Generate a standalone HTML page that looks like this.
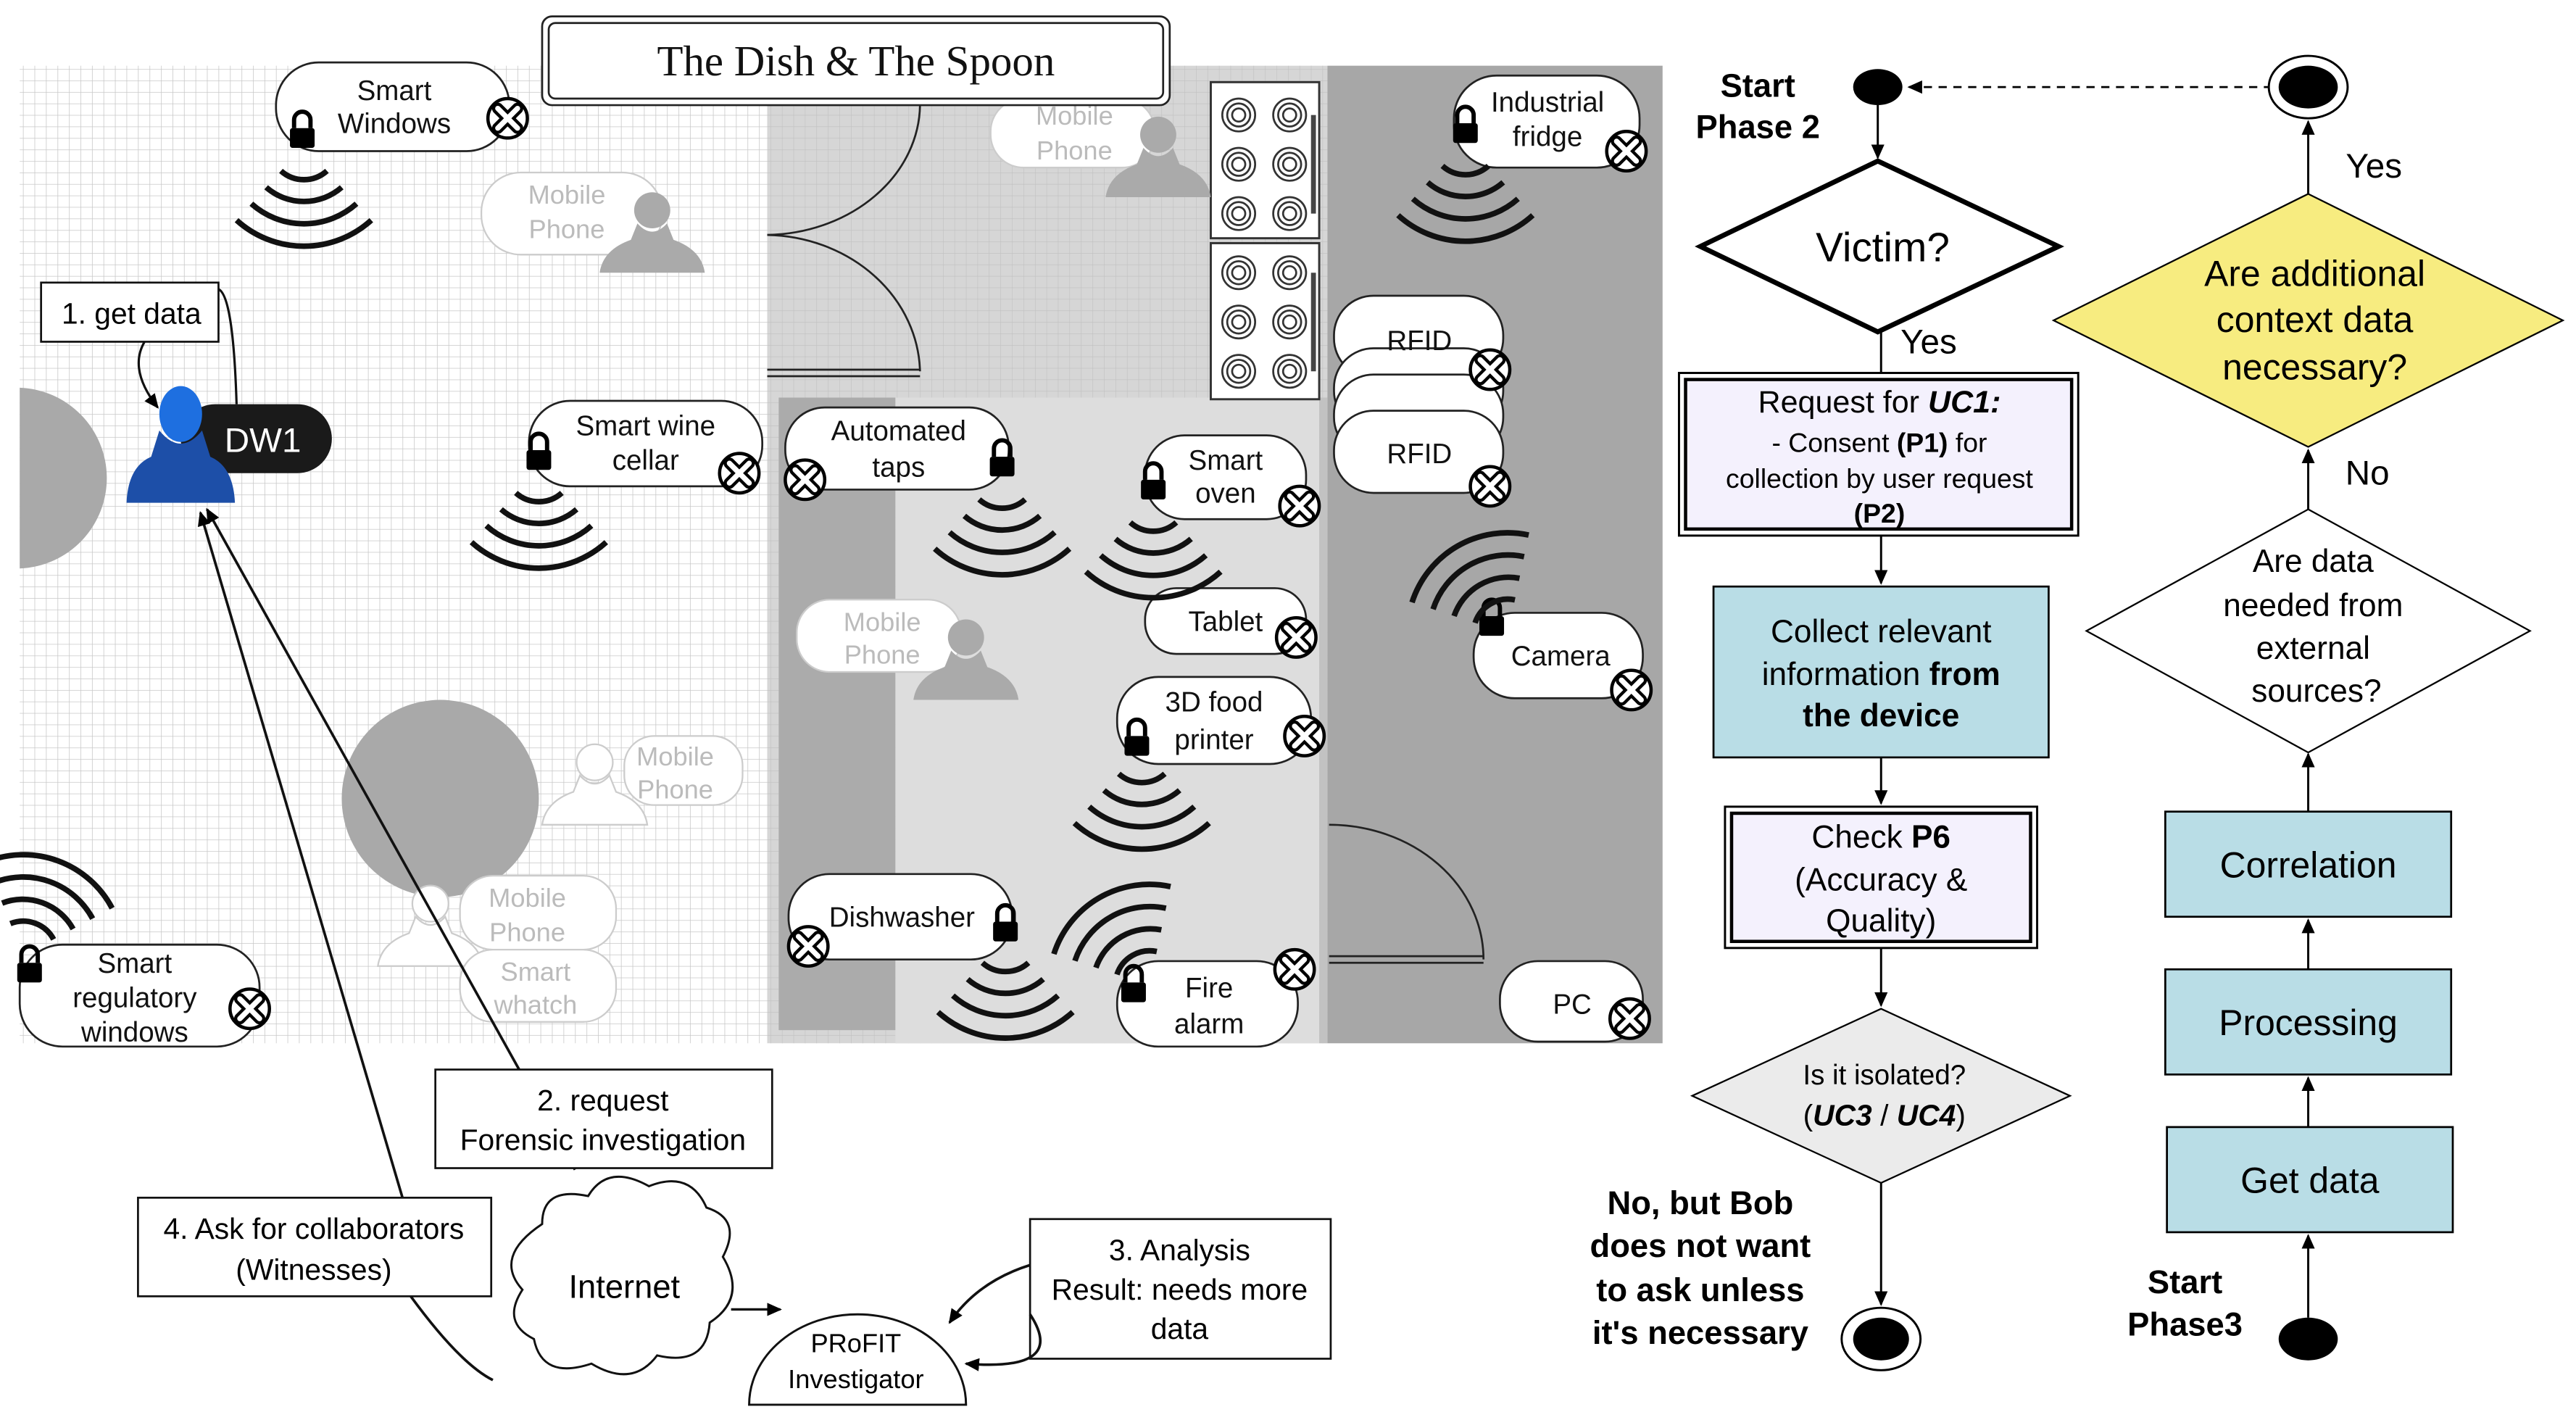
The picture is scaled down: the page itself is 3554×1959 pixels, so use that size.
<!DOCTYPE html>
<html><head><meta charset="utf-8"><style>
html,body{margin:0;padding:0;background:#fff;}
svg{display:block;}
text{font-family:"Liberation Sans",Arial,sans-serif;}
</style></head><body>
<svg width="3554" height="1959" viewBox="0 0 1568 864.3" preserveAspectRatio="none" xmlns="http://www.w3.org/2000/svg">
<defs>
<pattern id="grid" width="7" height="7" patternUnits="userSpaceOnUse">
<path d="M7 0H0V7" fill="none" stroke="#c8c8c8" stroke-width="0.7"/>
</pattern>
<pattern id="grid2" width="7" height="7" patternUnits="userSpaceOnUse">
<path d="M7 0H0V7" fill="none" stroke="#bfbfbf" stroke-width="0.5"/>
</pattern>
<g id="wifi" fill="none" stroke="#111" stroke-width="3.4">
<path d="M-14,16 A21 21 0 0 0 14,16"/>
<path d="M-23,26 A35 35 0 0 0 23,26"/>
<path d="M-32,36 A48 48 0 0 0 32,36"/>
<path d="M-41,46 A61 61 0 0 0 41,46"/>
</g>
<g id="lock">
<path d="M-5,-2 V-7 A5 5 0 0 1 5,-7 V-2" fill="none" stroke="#000" stroke-width="2.6"/>
<rect x="-7.5" y="-2" width="15" height="12" rx="1.5" fill="#000"/>
</g>
<g id="xc">
<circle r="12" fill="#fff" stroke="#000" stroke-width="2"/>
<path d="M-6,-6L6,6M6,-6L-6,6" stroke="#000" stroke-width="7" stroke-linecap="round"/>
<path d="M-6,-6L6,6M6,-6L-6,6" stroke="#fff" stroke-width="3.2" stroke-linecap="round"/>
</g>
<g id="person">
<circle cx="0" cy="-22" r="11"/>
<path d="M-9,-14 Q0,-4 9,-14 L13,-4 Q30,2 32,16 H-32 Q-30,2 -13,-4 Z"/>
</g>
<g id="burner" fill="none" stroke="#333" stroke-width="1.2">
<circle r="10"/><circle r="7"/><circle r="4"/>
</g>
<marker id="ah" markerWidth="10" markerHeight="10" refX="8" refY="5" orient="auto" markerUnits="userSpaceOnUse">
<path d="M0,1 L9,5 L0,9 Z" fill="#000"/>
</marker>
</defs>

<rect x="12" y="40" width="455" height="595" fill="#fff"/>
<rect x="12" y="40" width="455" height="595" fill="url(#grid)"/>
<rect x="467" y="40" width="341" height="595" fill="#d6d6d6"/>
<rect x="467" y="40" width="341" height="595" fill="url(#grid2)"/>
<rect x="545" y="242" width="258" height="393" fill="#dddddd"/>
<rect x="474" y="242" width="71" height="385" fill="#ababab"/>
<rect x="808" y="40" width="204" height="595" fill="#a7a7a7"/>
<rect x="803" y="242" width="5" height="393" fill="#c2c2c2"/>

<path d="M12,236 A55 55 0 0 1 65,290 A55 55 0 0 1 12,346 Z" fill="#a9a9a9"/>
<circle cx="268" cy="486" r="60" fill="#a9a9a9"/>

<path d="M560,64 A95 80 0 0 1 467,143" fill="none" stroke="#222" stroke-width="1.2"/>
<path d="M467,143 A95 85 0 0 1 560,226" fill="none" stroke="#222" stroke-width="1.2"/>
<path d="M467,225H560M467,229H560" stroke="#222" stroke-width="1.2"/>
<path d="M809,502 A94 82 0 0 1 903,584" fill="none" stroke="#222" stroke-width="1.2"/>
<path d="M809,582H903M809,586H903" stroke="#222" stroke-width="1.2"/>

<g>
<rect x="737" y="50" width="66" height="95" fill="#fff" stroke="#333" stroke-width="1.3"/>
<rect x="737" y="148" width="66" height="95" fill="#fff" stroke="#333" stroke-width="1.3"/>
<use href="#burner" x="754" y="70"/><use href="#burner" x="785" y="70"/>
<use href="#burner" x="754" y="100"/><use href="#burner" x="785" y="100"/>
<use href="#burner" x="754" y="130"/><use href="#burner" x="785" y="130"/>
<use href="#burner" x="754" y="166"/><use href="#burner" x="785" y="166"/>
<use href="#burner" x="754" y="196"/><use href="#burner" x="785" y="196"/>
<use href="#burner" x="754" y="226"/><use href="#burner" x="785" y="226"/>
<rect x="798" y="70" width="3" height="60" fill="#444"/>
<rect x="798" y="166" width="3" height="60" fill="#444"/>
</g>

<g fill="#b3b3b3">
<rect x="293" y="105" width="110" height="50" rx="24" fill="#fff" stroke="#ccc"/>
<text x="345" y="124" font-size="16" text-anchor="middle" fill="#bbb">Mobile</text>
<text x="345" y="145" font-size="16" text-anchor="middle" fill="#bbb">Phone</text>
<use href="#person" x="397" y="150" fill="#aaa"/>
<rect x="603" y="60" width="100" height="42" rx="20" fill="#fff" stroke="#ccc"/>
<text x="654" y="76" font-size="16" text-anchor="middle" fill="#bbb">Mobile</text>
<text x="654" y="97" font-size="16" text-anchor="middle" fill="#bbb">Phone</text>
<use href="#person" x="705" y="104" fill="#aaa"/>
<rect x="485" y="365" width="100" height="44" rx="20" fill="#fff" stroke="#ccc"/>
<text x="537" y="384" font-size="16" text-anchor="middle" fill="#bbb">Mobile</text>
<text x="537" y="404" font-size="16" text-anchor="middle" fill="#bbb">Phone</text>
<use href="#person" x="588" y="410" fill="#aaa"/>
<use href="#person" x="362" y="486" fill="#fff" stroke="#ccc"/>
<rect x="380" y="448" width="72" height="42" rx="18" fill="#fff" stroke="#ccc"/>
<text x="411" y="466" font-size="16" text-anchor="middle" fill="#bbb">Mobile</text>
<text x="411" y="486" font-size="16" text-anchor="middle" fill="#bbb">Phone</text>
<use href="#person" x="262" y="572" fill="#fff" stroke="#ccc"/>
<rect x="280" y="533" width="95" height="45" rx="20" fill="#fff" stroke="#ccc"/>
<text x="321" y="552" font-size="16" text-anchor="middle" fill="#bbb">Mobile</text>
<text x="321" y="573" font-size="16" text-anchor="middle" fill="#bbb">Phone</text>
<rect x="280" y="578" width="95" height="44" rx="20" fill="#fff" stroke="#ccc"/>
<text x="326" y="597" font-size="16" text-anchor="middle" fill="#bbb">Smart</text>
<text x="326" y="617" font-size="16" text-anchor="middle" fill="#bbb">whatch</text>
</g>

<g stroke="#222" stroke-width="1.2" fill="#fff">
<rect x="168" y="38" width="142" height="54" rx="26"/>
<rect x="322" y="244" width="142" height="52" rx="25"/>
<rect x="12" y="575" width="146" height="62" rx="26"/>
<rect x="478" y="248" width="136" height="50" rx="24"/>
<rect x="697" y="265" width="98" height="51" rx="24"/>
<rect x="697" y="358" width="98" height="40" rx="19"/>
<rect x="680" y="412" width="118" height="53" rx="25"/>
<rect x="480" y="532" width="136" height="52" rx="25"/>
<rect x="680" y="585" width="110" height="52" rx="25"/>
<rect x="885" y="46" width="113" height="56" rx="26"/>
<rect x="812" y="180" width="103" height="50" rx="24"/>
<rect x="812" y="212" width="103" height="50" rx="24"/>
<rect x="812" y="228" width="103" height="50" rx="24"/>
<rect x="812" y="250" width="103" height="50" rx="24"/>
<rect x="897" y="373" width="103" height="52" rx="25"/>
<rect x="913" y="585" width="87" height="49" rx="23"/>
</g>
<g font-size="17" fill="#111" text-anchor="middle">
<text x="240" y="61">Smart</text><text x="240" y="81">Windows</text>
<text x="393" y="265">Smart wine</text><text x="393" y="286">cellar</text>
<text x="82" y="592">Smart</text><text x="82" y="613">regulatory</text><text x="82" y="634">windows</text>
<text x="547" y="268">Automated</text><text x="547" y="290">taps</text>
<text x="746" y="286">Smart</text><text x="746" y="306">oven</text>
<text x="746" y="384">Tablet</text>
<text x="739" y="433">3D food</text><text x="739" y="456">printer</text>
<text x="549" y="564">Dishwasher</text>
<text x="736" y="607">Fire</text><text x="736" y="629">alarm</text>
<text x="942" y="68">Industrial</text><text x="942" y="89">fridge</text>
<text x="864" y="213">RFID</text><text x="864" y="282">RFID</text>
<text x="950" y="405">Camera</text>
<text x="957" y="617">PC</text>
</g>
<use href="#lock" x="184" y="80"/><use href="#lock" x="328" y="276"/><use href="#lock" x="18" y="588"/>
<use href="#lock" x="610" y="280"/><use href="#lock" x="702" y="294"/><use href="#lock" x="692" y="450"/>
<use href="#lock" x="612" y="563"/><use href="#lock" x="690" y="600"/><use href="#lock" x="892" y="77"/>
<use href="#lock" x="908" y="377"/>
<use href="#xc" x="309" y="72"/><use href="#xc" x="450" y="288"/><use href="#xc" x="152" y="614"/>
<use href="#xc" x="490" y="292"/><use href="#xc" x="791" y="308"/><use href="#xc" x="789" y="388"/>
<use href="#xc" x="794" y="448"/><use href="#xc" x="492" y="576"/><use href="#xc" x="788" y="590"/>
<use href="#xc" x="990" y="92"/><use href="#xc" x="907" y="225"/><use href="#xc" x="907" y="296"/>
<use href="#xc" x="993" y="420"/><use href="#xc" x="992" y="620"/>
<use href="#wifi" x="185" y="88"/><use href="#wifi" x="328" y="284"/><use href="#wifi" x="610" y="288"/>
<use href="#wifi" x="702" y="302"/><use href="#wifi" x="695" y="455"/><use href="#wifi" x="612" y="570"/>
<use href="#wifi" x="892" y="85"/>
<use href="#wifi" transform="translate(14,582) rotate(200)"/>
<use href="#wifi" transform="translate(700,600) rotate(150)"/>
<use href="#wifi" transform="translate(918,386) rotate(150)"/>

<rect x="330" y="10" width="382" height="54" rx="6" fill="#fff" stroke="#222" stroke-width="1.2"/>
<rect x="334" y="14" width="374" height="46" rx="4" fill="none" stroke="#222" stroke-width="1.2"/>
<text x="521" y="46" font-size="26" text-anchor="middle" fill="#111" style="font-family:'Liberation Serif',serif">The Dish &amp; The Spoon</text>

<rect x="110" y="246" width="92" height="42" rx="21" fill="#1a1a1a"/>
<text x="160" y="275" font-size="21" fill="#fff" text-anchor="middle">DW1</text>
<g>
<ellipse cx="110" cy="252" rx="13" ry="17" fill="#1e6fe0"/>
<path d="M97,262 Q110,278 123,262 L128,278 Q142,284 143,306 H77 Q78,284 92,278 Z" fill="#1d4fa8"/>
</g>

<rect x="25" y="172" width="108" height="36" fill="#fff" stroke="#111" stroke-width="1.2"/>
<text x="80" y="197" font-size="18" text-anchor="middle">1. get data</text>
<path d="M133,176 Q142,180 144,246" fill="none" stroke="#111" stroke-width="1.4"/>
<path d="M88,208 Q78,225 96,248" fill="none" stroke="#111" stroke-width="1.4" marker-end="url(#ah)"/>

<path d="M350,712 L126,310" stroke="#111" stroke-width="1.6" fill="none" marker-end="url(#ah)"/>
<path d="M245,729 L122,312" stroke="#111" stroke-width="1.6" fill="none" marker-end="url(#ah)"/>
<path d="M250,789 Q280,830 300,840" stroke="#111" stroke-width="1.6" fill="none"/>

<rect x="265" y="651" width="205" height="60" fill="#fff" stroke="#111" stroke-width="1.2"/>
<text x="367" y="676" font-size="18" text-anchor="middle">2. request</text>
<text x="367" y="700" font-size="18" text-anchor="middle">Forensic investigation</text>
<rect x="84" y="729" width="215" height="60" fill="#fff" stroke="#111" stroke-width="1.2"/>
<text x="191" y="754" font-size="18" text-anchor="middle">4. Ask for collaborators</text>
<text x="191" y="779" font-size="18" text-anchor="middle">(Witnesses)</text>
<rect x="627" y="742" width="183" height="85" fill="#fff" stroke="#111" stroke-width="1.2"/>
<text x="718" y="767" font-size="18" text-anchor="middle">3. Analysis</text>
<text x="718" y="791" font-size="18" text-anchor="middle">Result: needs more</text>
<text x="718" y="815" font-size="18" text-anchor="middle">data</text>

<path d="M330,745 Q330,722 358,728 Q370,708 395,722 Q420,712 430,735 Q452,742 440,765 Q455,790 432,805 Q430,832 400,825 Q385,845 360,830 Q330,840 325,815 Q305,805 318,785 Q300,765 330,745 Z" fill="#fff" stroke="#111" stroke-width="1.3"/>
<text x="380" y="790" font-size="20" text-anchor="middle">Internet</text>
<path d="M445,797 L475,797" stroke="#111" stroke-width="1.5" marker-end="url(#ah)"/>
<path d="M456,855 A66 55 0 0 1 588,855 Z" fill="#fff" stroke="#111" stroke-width="1.3"/>
<text x="521" y="823" font-size="16" text-anchor="middle">PRoFIT</text>
<text x="521" y="845" font-size="16" text-anchor="middle">Investigator</text>
<path d="M627,770 Q595,780 578,805" fill="none" stroke="#111" stroke-width="1.6" marker-end="url(#ah)"/>
<path d="M627,800 Q650,835 588,830" fill="none" stroke="#111" stroke-width="1.6" marker-end="url(#ah)"/>

<g fill="#000">
<text x="1070" y="59" font-size="20" font-weight="bold" text-anchor="middle">Start</text>
<text x="1070" y="84" font-size="20" font-weight="bold" text-anchor="middle">Phase 2</text>
<ellipse cx="1143" cy="53" rx="15" ry="11" fill="#000"/>
<path d="M1383,53 H1162" stroke="#000" stroke-width="1.2" stroke-dasharray="5,4" fill="none" marker-end="url(#ah)"/>
<ellipse cx="1405" cy="53" rx="24" ry="19" fill="#fff" stroke="#000" stroke-width="1.3"/>
<ellipse cx="1405" cy="53" rx="18" ry="13" fill="#000"/>
<path d="M1143,64 V96" stroke="#000" stroke-width="1.3" marker-end="url(#ah)"/>
<polygon points="1143,98 1253,150 1143,202 1035,150" fill="#fff" stroke="#000" stroke-width="3"/>
<text x="1146" y="159" font-size="25" text-anchor="middle">Victim?</text>
<path d="M1145,202 V227" stroke="#000" stroke-width="1.3"/>
<text x="1174" y="215" font-size="21" text-anchor="middle">Yes</text>
<rect x="1022" y="227" width="243" height="99" fill="#fff" stroke="#000" stroke-width="1.3"/>
<rect x="1026" y="231" width="235" height="91" fill="#f4f1fd" stroke="#000" stroke-width="2"/>
<text x="1144" y="251" font-size="19" text-anchor="middle">Request for <tspan font-weight="bold" font-style="italic">UC1:</tspan></text>
<text x="1144" y="275" font-size="16.5" text-anchor="middle">- Consent <tspan font-weight="bold">(P1)</tspan> for</text>
<text x="1144" y="297" font-size="16.5" text-anchor="middle">collection by user request</text>
<text x="1144" y="318" font-size="16.5" text-anchor="middle" font-weight="bold">(P2)</text>
<path d="M1145,326 V355" stroke="#000" stroke-width="1.3" marker-end="url(#ah)"/>
<rect x="1043" y="357" width="204" height="104" fill="#b9dde6" stroke="#000" stroke-width="1.2"/>
<text x="1145" y="391" font-size="19.5" text-anchor="middle">Collect relevant</text>
<text x="1145" y="417" font-size="19.5" text-anchor="middle">information  <tspan font-weight="bold">from</tspan></text>
<text x="1145" y="442" font-size="19.5" text-anchor="middle" font-weight="bold">the device</text>
<path d="M1145,461 V489" stroke="#000" stroke-width="1.3" marker-end="url(#ah)"/>
<rect x="1050" y="491" width="190" height="86" fill="#fff" stroke="#000" stroke-width="1.3"/>
<rect x="1054" y="495" width="182" height="78" fill="#f4f1fd" stroke="#000" stroke-width="2"/>
<text x="1145" y="516" font-size="19.5" text-anchor="middle">Check <tspan font-weight="bold">P6</tspan></text>
<text x="1145" y="542" font-size="19.5" text-anchor="middle">(Accuracy &amp;</text>
<text x="1145" y="567" font-size="19.5" text-anchor="middle">Quality)</text>
<path d="M1145,577 V612" stroke="#000" stroke-width="1.3" marker-end="url(#ah)"/>
<polygon points="1145,614 1260,667 1145,720 1030,667" fill="#ebebeb" stroke="#000" stroke-width="1"/>
<text x="1147" y="660" font-size="17" text-anchor="middle">Is it isolated?</text>
<text x="1147" y="685" font-size="18" text-anchor="middle">(<tspan font-weight="bold" font-style="italic">UC3</tspan> / <tspan font-weight="bold" font-style="italic">UC4</tspan>)</text>
<path d="M1145,720 V794" stroke="#000" stroke-width="1.3" marker-end="url(#ah)"/>
<ellipse cx="1145" cy="815" rx="24" ry="19" fill="#fff" stroke="#000" stroke-width="1.3"/>
<ellipse cx="1145" cy="815" rx="17" ry="13" fill="#000"/>
<g font-size="20" font-weight="bold" text-anchor="middle">
<text x="1035" y="739">No, but Bob</text>
<text x="1035" y="765">does not want</text>
<text x="1035" y="792">to ask unless</text>
<text x="1035" y="818">it's necessary</text>
</g>

<text x="1330" y="787" font-size="20" font-weight="bold" text-anchor="middle">Start</text>
<text x="1330" y="813" font-size="20" font-weight="bold" text-anchor="middle">Phase3</text>
<ellipse cx="1405" cy="815" rx="18" ry="13" fill="#000"/>
<path d="M1405,802 V752" stroke="#000" stroke-width="1.3" marker-end="url(#ah)"/>
<rect x="1319" y="686" width="174" height="64" fill="#b9dde6" stroke="#000" stroke-width="1.2"/>
<text x="1406" y="726" font-size="22" text-anchor="middle">Get data</text>
<path d="M1405,686 V656" stroke="#000" stroke-width="1.3" marker-end="url(#ah)"/>
<rect x="1318" y="590" width="174" height="64" fill="#b9dde6" stroke="#000" stroke-width="1.2"/>
<text x="1405" y="630" font-size="22" text-anchor="middle">Processing</text>
<path d="M1405,590 V560" stroke="#000" stroke-width="1.3" marker-end="url(#ah)"/>
<rect x="1318" y="494" width="174" height="64" fill="#b9dde6" stroke="#000" stroke-width="1.2"/>
<text x="1405" y="534" font-size="22" text-anchor="middle">Correlation</text>
<path d="M1405,494 V459" stroke="#000" stroke-width="1.3" marker-end="url(#ah)"/>
<polygon points="1405,310 1540,384 1405,458 1270,384" fill="#fff" stroke="#000" stroke-width="1"/>
<text x="1408" y="348" font-size="19.5" text-anchor="middle">Are data</text>
<text x="1408" y="375" font-size="19.5" text-anchor="middle">needed from</text>
<text x="1408" y="401" font-size="19.5" text-anchor="middle">external</text>
<text x="1410" y="427" font-size="19.5" text-anchor="middle">sources?</text>
<path d="M1405,310 V274" stroke="#000" stroke-width="1.3" marker-end="url(#ah)"/>
<text x="1441" y="295" font-size="21" text-anchor="middle">No</text>
<polygon points="1405,118 1560,195 1405,272 1250,195" fill="#f7ec80" stroke="#000" stroke-width="1"/>
<text x="1409" y="174" font-size="22" text-anchor="middle">Are additional</text>
<text x="1409" y="202" font-size="22" text-anchor="middle">context data</text>
<text x="1409" y="231" font-size="22" text-anchor="middle">necessary?</text>
<path d="M1405,118 V74" stroke="#000" stroke-width="1.3" marker-end="url(#ah)"/>
<text x="1445" y="108" font-size="21" text-anchor="middle">Yes</text>
</g>
</svg>
</body></html>
